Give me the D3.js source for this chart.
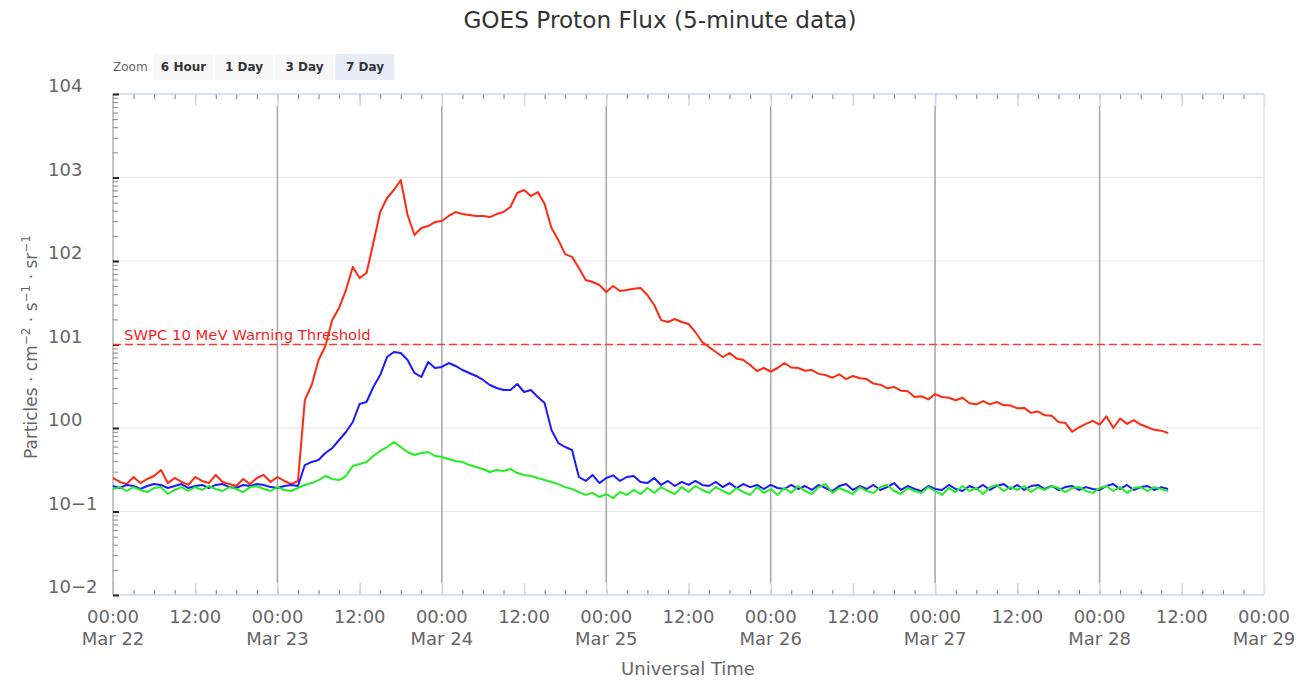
<!DOCTYPE html>
<html>
<head>
<meta charset="utf-8">
<script src="https://cdn.jsdelivr.net/npm/d3@7"></script>
<style>
  body { margin: 0; background: #fff; }
  svg { display: block; font-family: "DejaVu Sans", sans-serif; }
</style>
</head>
<body>
<svg id="chart" width="1309" height="684"></svg>
<script>
// ---- data -------------------------------------------------------------
// Hourly proton flux (pfu), first sample 2024-03-22 00:00 UTC
const startTime = Date.UTC(2024, 2, 22, 0, 0);
const intervalHours = 1;

const seriesNames = ["≥10 MeV", "≥50 MeV", "≥100 MeV"];
const seriesColors = ["#ff2a12", "#1a1aff", "#22ee22"];

const flux10 = [
  0.252,0.226,0.213,0.259,0.219,0.245,0.266,0.314,0.219,0.252,
  0.226,0.208,0.259,0.232,0.219,0.274,0.226,0.213,0.202,0.245,
  0.213,0.252,0.274,0.226,0.259,0.232,0.213,0.232,
  2.16,3.27,6.52,9.59,19.6,27.4,44.9,84.7,62.5,71.8,
  164,386,568,708,933,356,205,248,262,293,
  301,346,386,365,356,346,346,336,365,386,
  444,652,708,600,670,482,248,178,121,112,
  82.4,59.2,56.0,51.6,42.5,50.2,43.7,44.9,46.5,47.5,
  39.2,29.7,19.6,18.6,20.2,18.6,17.6,14.1,10.7,9.33,
  8.13,7.08,7.91,6.80,6.52,5.68,4.82,5.23,4.75,5.23,
  6.00,5.30,5.23,4.85,4.95,4.45,4.30,4.00,4.40,3.85,
  4.20,3.95,3.85,3.40,3.30,3.00,3.10,2.80,2.75,2.35,
  2.40,2.20,2.55,2.35,2.30,2.15,2.30,1.98,1.92,2.10,
  1.92,2.05,1.88,1.86,1.72,1.74,1.52,1.58,1.42,1.40,
  1.18,1.15,0.900,1.02,1.12,1.22,1.10,1.38,1.00,1.30,
  1.12,1.24,1.10,1.02,0.950,0.930,0.871
];

const flux50 = [
  0.202,0.191,0.208,0.202,0.186,0.202,0.213,0.208,0.191,0.202,
  0.213,0.191,0.202,0.208,0.191,0.208,0.213,0.196,0.191,0.208,
  0.202,0.213,0.208,0.196,0.191,0.202,0.208,0.202,
  0.360,0.392,0.414,0.502,0.575,0.718,0.895,1.18,1.94,2.05,
  3.10,4.31,7.08,8.13,7.91,6.52,4.56,4.08,6.17,5.23,
  5.38,6.00,5.53,4.95,4.56,4.20,3.76,3.27,3.01,2.85,
  2.85,3.37,2.70,2.85,2.35,1.99,0.946,0.661,0.592,0.545,
  0.259,0.232,0.274,0.219,0.252,0.271,0.232,0.259,0.266,0.226,
  0.219,0.252,0.208,0.232,0.202,0.226,0.208,0.232,0.208,0.202,
  0.226,0.196,0.219,0.191,0.213,0.196,0.208,0.186,0.208,0.191,
  0.186,0.208,0.186,0.202,0.181,0.208,0.191,0.176,0.202,0.213,
  0.181,0.202,0.186,0.208,0.181,0.196,0.219,0.181,0.202,0.186,
  0.176,0.202,0.186,0.181,0.208,0.186,0.176,0.202,0.186,0.208,
  0.181,0.202,0.213,0.186,0.208,0.181,0.202,0.208,0.186,0.202,
  0.181,0.196,0.202,0.181,0.196,0.186,0.181,0.202,0.213,0.186,
  0.208,0.181,0.196,0.202,0.181,0.196,0.186
];

const flux100 = [
  0.186,0.196,0.176,0.196,0.181,0.171,0.191,0.196,0.162,0.181,
  0.196,0.176,0.196,0.181,0.202,0.186,0.176,0.196,0.186,0.171,
  0.196,0.202,0.186,0.176,0.196,0.181,0.176,0.191,
  0.208,0.219,0.238,0.266,0.245,0.238,0.266,0.351,0.370,0.392,
  0.462,0.531,0.592,0.680,0.592,0.516,0.475,0.502,0.516,0.462,
  0.449,0.425,0.403,0.392,0.360,0.341,0.323,0.297,0.314,0.305,
  0.323,0.289,0.274,0.266,0.252,0.238,0.226,0.213,0.196,0.186,
  0.171,0.158,0.167,0.149,0.162,0.145,0.171,0.158,0.181,0.162,
  0.191,0.167,0.196,0.176,0.162,0.196,0.171,0.202,0.181,0.167,
  0.196,0.176,0.162,0.191,0.171,0.158,0.196,0.167,0.186,0.158,
  0.191,0.167,0.202,0.176,0.162,0.196,0.213,0.167,0.191,0.176,
  0.162,0.196,0.176,0.167,0.196,0.208,0.176,0.162,0.191,0.176,
  0.167,0.196,0.176,0.158,0.191,0.171,0.202,0.176,0.191,0.162,
  0.196,0.208,0.176,0.196,0.181,0.202,0.171,0.196,0.181,0.202,
  0.191,0.171,0.191,0.196,0.176,0.167,0.191,0.202,0.176,0.196,
  0.167,0.191,0.196,0.176,0.196,0.186,0.176
];

const yTickValues = [0.01, 0.1, 1, 10, 100, 1000, 10000];
const yTickLabels = ["10−2", "10−1", "100", "101", "102", "103", "104"];
const zoomButtons = ["6 Hour", "1 Day", "3 Day", "7 Day"];
const selectedZoom = "7 Day";
const thresholdValue = 10;
const thresholdLabel = "SWPC 10 MeV Warning Threshold";
const titleText = "GOES Proton Flux (5-minute data)";
const xAxisTitle = "Universal Time";

// ---- layout -----------------------------------------------------------
const plot = { left: 113, right: 1264, top: 94, bottom: 595 };
const svg = d3.select("#chart");

const x = d3.scaleUtc()
  .domain([new Date(Date.UTC(2024, 2, 22)), new Date(Date.UTC(2024, 2, 29))])
  .range([plot.left, plot.right]);
const y = d3.scaleLog()
  .domain([0.01, 10000])
  .range([plot.bottom, plot.top]);

const timeAt = i => new Date(startTime + i * intervalHours * 3600e3);
const series = [flux10, flux50, flux100].map((vals, k) => ({
  name: seriesNames[k],
  color: seriesColors[k],
  points: vals.map((v, i) => ({ t: timeAt(i), v }))
}));

// ---- title & zoom buttons ---------------------------------------------
svg.append("text")
  .attr("x", 660).attr("y", 28)
  .attr("text-anchor", "middle")
  .attr("font-size", 23.2).attr("fill", "#333")
  .text(titleText);

svg.append("text")
  .attr("x", 113).attr("y", 71)
  .attr("font-size", 12).attr("fill", "#666")
  .text("Zoom");

const btn = svg.append("g").selectAll("g").data(zoomButtons).join("g")
  .attr("transform", (d, i) => `translate(${154 + i * 60.5},54)`);
btn.append("rect")
  .attr("width", 59).attr("height", 26)
  .attr("fill", d => d === selectedZoom ? "#e6ebf5" : "#f7f7f7");
btn.append("text")
  .attr("x", 29.5).attr("y", 17)
  .attr("text-anchor", "middle")
  .attr("font-size", 12).attr("font-weight", "bold")
  .attr("fill", "#333")
  .text(d => d);

// ---- grid -------------------------------------------------------------
svg.append("g").selectAll("line").data(yTickValues.slice(1, -1)).join("line")
  .attr("x1", plot.left).attr("x2", plot.right)
  .attr("y1", d => y(d)).attr("y2", d => y(d))
  .attr("stroke", "#e6e6e6").attr("stroke-width", 1);

// day boundary lines
const dayLines = d3.utcDay.range(new Date(Date.UTC(2024, 2, 23)), new Date(Date.UTC(2024, 2, 29)));
svg.append("g").selectAll("line").data(dayLines).join("line")
  .attr("x1", d => x(d)).attr("x2", d => x(d))
  .attr("y1", plot.top + 12).attr("y2", plot.bottom - 12)
  .attr("stroke", "#a6a6a6").attr("stroke-width", 1.5);

// ---- frame & time axes ------------------------------------------------
function styleAxis(g, color, width) {
  g.select(".domain").remove();
  g.selectAll(".tick line").attr("stroke", color).attr("stroke-width", width);
  g.selectAll(".tick text").remove();
}

const hour3 = d3.utcHour.every(3);
const hour12 = d3.utcHour.every(12);

svg.append("g").attr("transform", `translate(0,${plot.bottom})`)
  .call(d3.axisBottom(x).ticks(hour3).tickSize(-5).tickFormat(""))
  .call(g => styleAxis(g, "#777", 1));
svg.append("g").attr("transform", `translate(0,${plot.top})`)
  .call(d3.axisTop(x).ticks(hour3).tickSize(-5).tickFormat(""))
  .call(g => styleAxis(g, "#777", 1));
svg.append("g").attr("transform", `translate(0,${plot.bottom})`)
  .call(d3.axisBottom(x).ticks(hour12).tickSize(-12).tickFormat(""))
  .call(g => styleAxis(g, "#ccd6eb", 1.5));
svg.append("g").attr("transform", `translate(0,${plot.top})`)
  .call(d3.axisTop(x).ticks(hour12).tickSize(-12).tickFormat(""))
  .call(g => styleAxis(g, "#ccd6eb", 1.5));

// frame lines
svg.append("line").attr("x1", plot.left).attr("x2", plot.right)
  .attr("y1", plot.top).attr("y2", plot.top)
  .attr("stroke", "#ccd6eb").attr("stroke-width", 1.5);
svg.append("line").attr("x1", plot.left).attr("x2", plot.right)
  .attr("y1", plot.bottom).attr("y2", plot.bottom)
  .attr("stroke", "#ccd6eb").attr("stroke-width", 1.5);
svg.append("line").attr("x1", plot.right).attr("x2", plot.right)
  .attr("y1", plot.top).attr("y2", plot.bottom)
  .attr("stroke", "#dfe5f0").attr("stroke-width", 1.5);
svg.append("line").attr("x1", plot.left).attr("x2", plot.left)
  .attr("y1", plot.top).attr("y2", plot.bottom)
  .attr("stroke", "#b3b3b3").attr("stroke-width", 1.5);

// x tick labels
const xTicks = x.ticks(hour12);
const xl = svg.append("g").selectAll("text").data(xTicks).join("text")
  .attr("text-anchor", "middle")
  .attr("font-size", 18).attr("fill", "#666");
xl.append("tspan")
  .attr("x", d => x(d)).attr("y", 623)
  .text(d3.utcFormat("%H:%M"));
xl.filter(d => d.getUTCHours() === 0).append("tspan")
  .attr("x", d => x(d)).attr("y", 645)
  .text(d3.utcFormat("%b %-d"));

svg.append("text")
  .attr("x", 688).attr("y", 675)
  .attr("text-anchor", "middle")
  .attr("font-size", 18).attr("fill", "#666")
  .text(xAxisTitle);

// ---- log y axis -------------------------------------------------------
const minorVals = [];
yTickValues.slice(0, -1).forEach(dec => {
  for (let m = 2; m <= 9; m++) minorVals.push(dec * m);
});
svg.append("g").attr("transform", `translate(${plot.left},0)`)
  .call(d3.axisLeft(y).tickValues(minorVals).tickSize(-5).tickFormat(""))
  .call(g => styleAxis(g, "#888", 1));
svg.append("g").attr("transform", `translate(${plot.left},0)`)
  .call(d3.axisLeft(y).tickValues(yTickValues).tickSize(-6).tickFormat(""))
  .call(g => styleAxis(g, "#222", 2));

svg.append("g").selectAll("text").data(yTickValues).join("text")
  .attr("x", 48).attr("y", d => y(d) - 2)
  .attr("font-size", 18).attr("fill", "#666")
  .text((d, i) => yTickLabels[i]);

const yTitle = svg.append("text")
  .attr("transform", "translate(37,347) rotate(-90)")
  .attr("text-anchor", "middle")
  .attr("font-size", 17).attr("fill", "#666");
yTitle.append("tspan").text("Particles · cm");
yTitle.append("tspan").attr("font-size", 12).attr("dy", -7).text("−2");
yTitle.append("tspan").attr("dy", 7).text(" · s");
yTitle.append("tspan").attr("font-size", 12).attr("dy", -7).text("−1");
yTitle.append("tspan").attr("dy", 7).text(" · sr");
yTitle.append("tspan").attr("font-size", 12).attr("dy", -7).text("−1");

// ---- threshold --------------------------------------------------------
svg.append("line")
  .attr("x1", plot.left).attr("x2", plot.right)
  .attr("y1", y(thresholdValue)).attr("y2", y(thresholdValue))
  .attr("stroke", "#f53b3b").attr("stroke-width", 1.3)
  .attr("stroke-dasharray", "8,4");
svg.append("text")
  .attr("x", 124).attr("y", y(thresholdValue) - 5)
  .attr("font-size", 14.8).attr("fill", "#f21f1f")
  .text(thresholdLabel);

// ---- series -----------------------------------------------------------
const line = d3.line().x(d => x(d.t)).y(d => y(d.v));
svg.append("g").selectAll("path").data(series).join("path")
  .attr("d", d => line(d.points))
  .attr("fill", "none")
  .attr("stroke", d => d.color)
  .attr("stroke-width", 2)
  .attr("stroke-linejoin", "round");
</script>
</body>
</html>
